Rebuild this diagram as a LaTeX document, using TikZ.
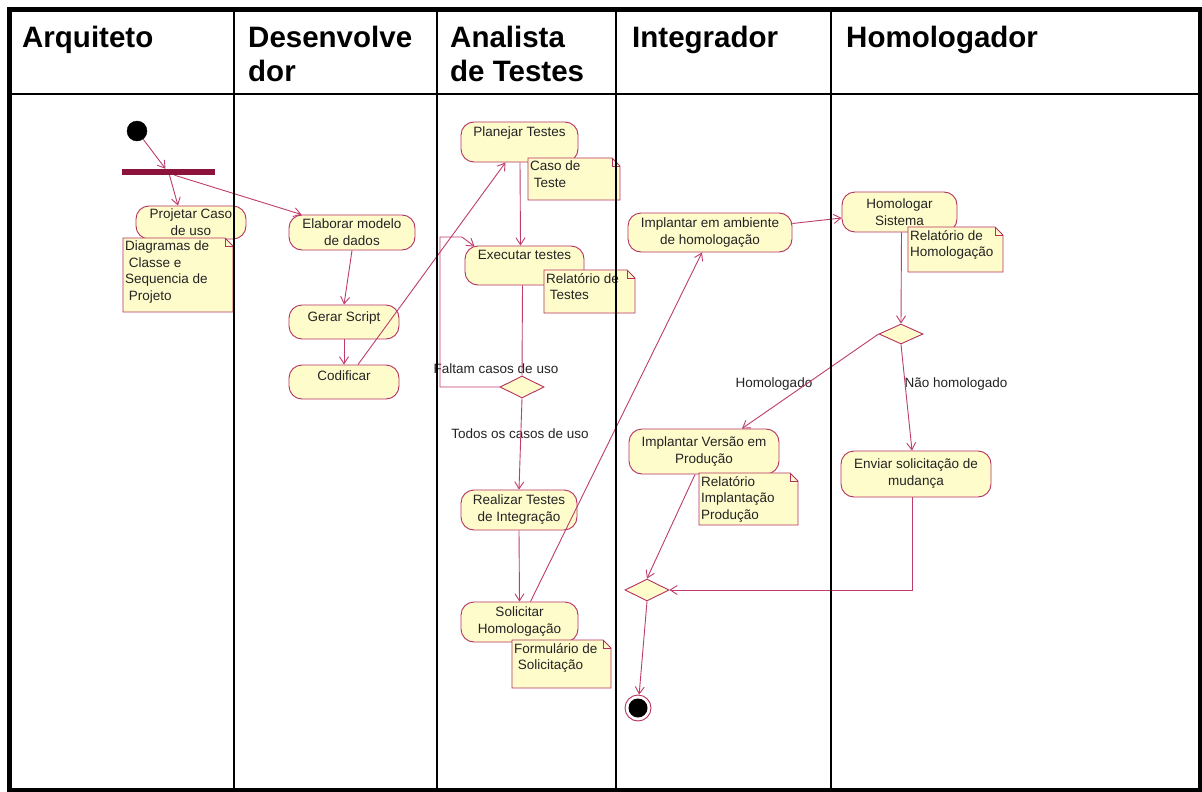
\documentclass[tikz,border=0pt]{standalone}
\usepackage{fontspec}
\setmainfont{Liberation Sans}
\usetikzlibrary{arrows.meta,shapes.geometric,calc}
\definecolor{actfill}{RGB}{255,252,204}
\definecolor{actline}{RGB}{180,48,96}
\definecolor{flowline}{RGB}{190,60,110}
\definecolor{forkbar}{RGB}{140,20,60}
\definecolor{ink}{RGB}{35,35,35}

% UML note: name, x, y (top left), width, height, text
\newcommand\umlnote[6]{%
  \path[notebody] (#2,#3) -- ++({#4-8},0) -- ++(8,8) -- ++(0,{#5-8}) -- ++({-#4},0) -- cycle;
  \path[notebody,fill=none] ({#2+#4-8},#3) -- ++(0,8) -- ++(8,0);
  \node[notetext] (#1) at ({#2+1},{#3+2}) {#6};
}

\begin{document}
\begin{tikzpicture}[x=1pt,y=-1pt,
  small/.style={font=\fontsize{13.5}{16.5}\selectfont, text=ink},
  act/.style={font=\fontsize{13.5}{17}\selectfont, text=ink, draw=actline, fill=actfill,
    rounded corners=13pt, align=center, inner sep=1pt, line width=0.9pt},
  dec/.style={diamond, draw=actline, fill=actfill, inner sep=0pt,
    minimum width=44pt, minimum height=22pt, line width=0.9pt},
  flow/.style={draw=flowline, line width=0.9pt},
  arr/.style={flow, -{Straight Barb[length=7pt,width=9pt]}},
  notebody/.style={draw=actline, fill=actfill, line width=0.9pt, line join=miter},
  notetext/.style={small, anchor=north west, align=left, inner sep=1pt},
  lane/.style={draw=black, line width=1.6pt},
  head/.style={font=\fontsize{29.5}{34.5}\selectfont\bfseries, anchor=north west,
    align=left, inner sep=0pt},
  lbl/.style={small, inner sep=1pt}
]
\useasboundingbox (0,0) rectangle (1202,792);
\fill[white] (0,0) rectangle (1202,792);

% swimlane headers
\node[head] (hArq) at (22,25.5) {Arquiteto};
\node[head] (hDes) at (248,25.5) {Desenvolve\\dor};
\node[head] (hAna) at (450,25.5) {Analista\\de Testes};
\node[head] (hInt) at (632,25.5) {Integrador};
\node[head] (hHom) at (846,25.5) {Homologador};

% start and fork
\node[circle, fill=black, draw=black, minimum size=20pt, inner sep=0pt] (ini) at (137,131) {};
\node[rectangle, fill=forkbar, minimum width=93pt, minimum height=6pt, inner sep=0pt] (fork) at (168.5,172) {};

% activities
\node[act, minimum width=110pt, minimum height=33pt] (proj) at (191,222.5) {Projetar Caso\\de uso};
\node[act, minimum width=126pt, minimum height=35pt] (ela) at (352,232.5) {Elaborar modelo\\de dados};
\node[act, minimum width=110pt, minimum height=34pt, text depth=11pt] (ger) at (344,322) {Gerar Script};
\node[act, minimum width=110pt, minimum height=34pt, text depth=13pt] (cod) at (344,382) {Codificar};
\node[act, minimum width=117pt, minimum height=40pt, text depth=21pt] (plan) at (519.5,142) {Planejar Testes};
\node[act, minimum width=119pt, minimum height=39pt, text depth=21pt] (exe) at (524.5,265.5) {Executar testes};
\node[dec] (dec1) at (522,387) {};
\node[act, minimum width=116pt, minimum height=40pt] (real) at (519,510) {Realizar Testes\\de Integração};
\node[act, minimum width=117pt, minimum height=40pt] (sol) at (519.5,622) {Solicitar\\Homologação};
\node[act, minimum width=164pt, minimum height=39pt] (impA) at (710,232.5) {Implantar em ambiente\\de homologação};
\node[act, minimum width=150pt, minimum height=45pt] (impV) at (704,451.5) {Implantar Versão em\\Produção};
\node[dec] (dec2) at (647,590) {};
\node[act, minimum width=115pt, minimum height=40pt] (hom) at (899.5,212) {Homologar\\Sistema};
\node[dec, minimum height=20pt] (dec3) at (901,334) {};
\node[act, minimum width=150pt, minimum height=46pt] (env) at (916,474) {Enviar solicitação de\\mudança};

% end node
\node[circle, draw=actline, fill=white, line width=0.9pt, minimum size=26pt, inner sep=0pt] (fin) at (638,708) {};
\node[circle, fill=black, minimum size=19pt, inner sep=0pt] (finc) at (fin.center) {};

% notes
\umlnote{nDia}{123}{238}{110}{74}{Diagramas de\\\ Classe e\\Sequencia de\\\ Projeto}
\umlnote{nCaso}{528}{158}{92}{42}{Caso de\\\ Teste}
\umlnote{nRelT}{544}{270}{91}{43}{Relatório de\\\ Testes}
\umlnote{nForm}{512}{640}{99}{48}{Formulário de\\\ Solicitação}
\umlnote{nRelI}{699}{473}{99}{52}{Relatório\\Implantação\\Produção}
\umlnote{nRelH}{908}{227}{95}{45}{Relatório de\\Homologação}

% guard labels
\node[lbl] (lf) at (496,369) {Faltam casos de uso};
\node[lbl] (lt) at (520,434) {Todos os casos de uso};
\node[lbl] (lh) at (774,384) {Homologado};
\node[lbl] (ln) at (956,384) {Não homologado};

% flows
\coordinate (loopA) at (440,387);
\coordinate (loopB) at (440,237);
\coordinate (loopC) at (462,237);
\draw[arr] (ini) -- ($(fork.north)+(-3,0)$);
\draw[arr] ($(fork.south)+(1,0)$) -- ($(proj.north)+(-13,0)$);
\draw[arr] ($(fork.south)+(6,0)$) -- ($(ela.north west)+(13,0)$);
\draw[arr] (ela.south) -- (ger.north);
\draw[arr] (ger.south) -- (cod.north);
\draw[arr] ($(cod.north)+(14,0)$) -- ($(plan.south)+(-14,0)$);
\draw[arr] ($(plan.south)+(0.5,0)$) -- ($(exe.north)+(-4,0)$);
\draw[flow] ($(exe.south)+(-2,0)$) -- (dec1.north);
\draw[arr] (dec1.west) -- (loopA) -- (loopB) -- (loopC) -- ($(exe.north west)+(10,1)$);
\draw[arr] (dec1.south) -- (real.north);
\draw[arr] (real.south) -- (sol.north);
\draw[arr] ($(sol.north)+(11,0)$) -- ($(impA.south)+(-8,0)$);
\draw[arr] ($(impA.east)+(0,-9)$) -- ($(hom.west)+(0,6)$);
\draw[arr] ($(hom.south)+(2,0)$) -- (dec3.north);
\draw[arr] (dec3.west) -- ($(impV.north)+(38,0)$);
\draw[arr] (dec3.south) -- ($(env.north)+(-4,0)$);
\draw[arr] ($(impV.south)+(-9,0)$) -- (dec2.north);
\draw[arr] ($(env.south)+(-4,0)$) |- (dec2.east);
\draw[arr] (dec2.south) -- (fin);

% lanes and frame
\draw[lane] (234,10) -- (234,790);
\draw[lane] (437,10) -- (437,790);
\draw[lane] (616,10) -- (616,790);
\draw[lane] (831,10) -- (831,790);
\draw[black, line width=1.2pt] (9,94) -- (1200,94);
\draw[black, line width=5pt] (9,10) rectangle (1200,790);
\end{tikzpicture}
\end{document}
